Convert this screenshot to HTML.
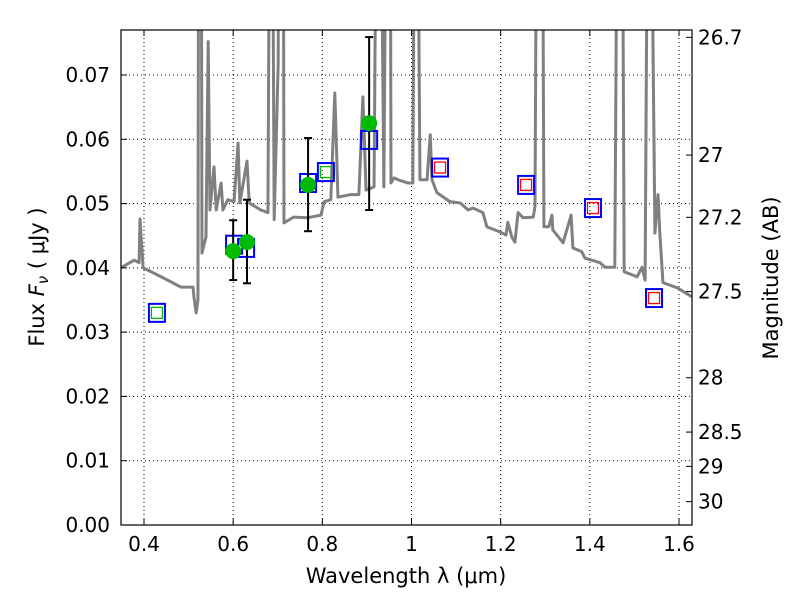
<!DOCTYPE html>
<html><head><meta charset="utf-8"><style>
body{margin:0;background:#fff}
svg text{font-family:"DejaVu Sans","Liberation Sans",sans-serif;fill:#000}
</style></head><body>
<svg id="chart" width="800" height="600" xmlns="http://www.w3.org/2000/svg">
<defs><clipPath id="clip"><rect x="121" y="30" width="571" height="495"/></clipPath></defs>
<rect x="0" y="0" width="800" height="600" fill="#fff"/>
<g id="grid"></g>
<g id="series" clip-path="url(#clip)"></g>
<rect x="121" y="30" width="571" height="495" fill="none" stroke="#000" stroke-width="1.2"/>
<g id="axes"></g>
<text x="406" y="583" font-size="21" text-anchor="middle">Wavelength  λ (μm)</text>
<text transform="translate(44,277) rotate(-90)" font-size="21" text-anchor="middle">Flux  <tspan font-style="italic">F</tspan><tspan font-size="15" dy="4" font-style="italic">ν</tspan><tspan dy="-4">  ( μJy )</tspan></text>
<text transform="translate(778,278) rotate(-90)" font-size="21" text-anchor="middle">Magnitude (AB)</text>
</svg>
<script>
const specLam=[0.348,0.378,0.389,0.391,0.398,0.416,0.461,0.483,0.510,0.512,0.517,0.521,0.523,0.528,0.530,0.539,0.544,0.548,0.557,0.562,0.573,0.577,0.588,0.602,0.611,0.615,0.631,0.636,0.662,0.678,0.683,0.687,0.692,0.701,0.703,0.712,0.714,0.736,0.768,0.797,0.804,0.819,0.828,0.835,0.864,0.882,0.891,0.898,0.916,0.923,0.929,0.938,0.945,0.952,0.954,0.961,0.970,0.992,1.003,1.008,1.012,1.019,1.035,1.042,1.046,1.057,1.086,1.109,1.127,1.138,1.160,1.169,1.198,1.212,1.216,1.225,1.232,1.239,1.250,1.273,1.277,1.282,1.293,1.297,1.308,1.315,1.317,1.340,1.358,1.362,1.382,1.389,1.423,1.434,1.456,1.463,1.472,1.477,1.506,1.517,1.524,1.531,1.535,1.546,1.553,1.557,1.564,1.596,1.629];
const specFlux=[0.0400,0.0412,0.0408,0.0476,0.0400,0.0394,0.0378,0.0370,0.0370,0.0355,0.0330,0.0350,0.12,0.12,0.0423,0.0448,0.0752,0.0490,0.0557,0.0490,0.0532,0.0490,0.0506,0.0503,0.0594,0.0501,0.0566,0.0501,0.0490,0.0486,0.12,0.12,0.0475,0.0719,0.12,0.12,0.0470,0.0479,0.0478,0.0482,0.0503,0.0506,0.0672,0.0510,0.0514,0.0514,0.0666,0.0521,0.0526,0.12,0.12,0.0526,0.12,0.12,0.0532,0.0540,0.0537,0.0532,0.0532,0.12,0.12,0.0537,0.0537,0.0607,0.0537,0.0517,0.0503,0.0501,0.0490,0.0493,0.0486,0.0464,0.0456,0.0451,0.0471,0.0448,0.0440,0.0486,0.0478,0.0479,0.0495,0.12,0.12,0.0464,0.0464,0.0482,0.0459,0.0439,0.0482,0.0431,0.0425,0.0415,0.0408,0.0401,0.0401,0.12,0.12,0.0394,0.0386,0.0401,0.0381,0.12,0.12,0.0454,0.0514,0.0454,0.0377,0.0369,0.0355];
const modelLam=[0.429,0.602,0.629,0.768,0.808,0.905,1.064,1.257,1.407,1.544];
const modelFlux=[0.0330,0.0436,0.0431,0.0532,0.0549,0.0599,0.0556,0.0529,0.0493,0.0353];
const innerLam=[0.429,0.808,1.064,1.257,1.407,1.544];
const innerFlux=[0.0330,0.0549,0.0556,0.0529,0.0493,0.0353];
const innerColor=['#00bb00','#00bb00','red','red','red','red'];
const obsLam=[0.600,0.631,0.768,0.905];
const obsFlux=[0.0426,0.0440,0.0529,0.0625];
const obsHi=[0.0474,0.0506,0.0602,0.0759];
const obsLo=[0.0381,0.0376,0.0457,0.0490];
const xTicks=[0.4,0.6,0.8,1.0,1.2,1.4,1.6];
const xTickLabels=['0.4','0.6','0.8','1','1.2','1.4','1.6'];
const yTicks=[0,0.01,0.02,0.03,0.04,0.05,0.06,0.07];
const yTickLabels=['0.00','0.01','0.02','0.03','0.04','0.05','0.06','0.07'];
const magTicks=[26.7,27,27.2,27.5,28,28.5,29,30];
const magTickLabels=['26.7','27','27.2','27.5','28','28.5','29','30'];

const NS='http://www.w3.org/2000/svg';
const X=l=>144+(l-0.4)*445.83;
const Y=f=>525-f*6428.6;
const mk=(t,a,p)=>{const e=document.createElementNS(NS,t);for(const k in a)e.setAttribute(k,a[k]);p.appendChild(e);return e;};
const grid=document.getElementById('grid'),axes=document.getElementById('axes'),ser=document.getElementById('series');
xTicks.forEach((v,i)=>{const x=X(v);
 let g=mk('line',{x1:x,x2:x,y1:30,y2:525,stroke:'#000','stroke-dasharray':'1,3','stroke-width':1},grid);
 
 mk('line',{x1:x,x2:x,y1:525,y2:519,stroke:'#000'},axes);mk('line',{x1:x,x2:x,y1:30,y2:36,stroke:'#000'},axes);
 const t=mk('text',{x:x,y:551,'font-size':20,'text-anchor':'middle'},axes);t.textContent=xTickLabels[i];
 });
yTicks.forEach((v,i)=>{const y=Y(v);
 let g=mk('line',{x1:121,x2:692,y1:y,y2:y,stroke:'#000','stroke-dasharray':'1,3','stroke-width':1},grid);
 
 mk('line',{x1:121,x2:127,y1:y,y2:y,stroke:'#000'},axes);
 const t=mk('text',{x:110,y:y+7,'font-size':20,'text-anchor':'end'},axes);t.textContent=yTickLabels[i];
 });
magTicks.forEach((m,i)=>{const y=Y(Math.pow(10,(23.9-m)/2.5));
 mk('line',{x1:686,x2:692,y1:y,y2:y,stroke:'#000'},axes);
 const t=mk('text',{x:698,y:y+7,'font-size':20},axes);t.textContent=magTickLabels[i];
 });
const sp=mk('polyline',{points:specLam.map((l,i)=>X(l)+','+Y(specFlux[i])).join(' '),fill:'none',stroke:'#808080','stroke-width':3,'stroke-linejoin':'round'},ser);

modelLam.forEach((l,i)=>{const r=mk('rect',{x:X(l)-8,y:Y(modelFlux[i])-9,width:16,height:18,fill:'none',stroke:'#0000ff','stroke-width':2},ser);
 });
innerLam.forEach((l,i)=>{const r=mk('rect',{x:X(l)-5.5,y:Y(innerFlux[i])-5.5,width:11,height:11,fill:'none',stroke:innerColor[i],'stroke-width':1.3},ser);
 });
obsLam.forEach((l,i)=>{const x=X(l);
 const e=mk('g',{},ser);
 mk('line',{x1:x,x2:x,y1:Y(obsHi[i]),y2:Y(obsLo[i]),stroke:'#000','stroke-width':2},e);
 mk('line',{x1:x-4,x2:x+4,y1:Y(obsHi[i]),y2:Y(obsHi[i]),stroke:'#000','stroke-width':2},e);
 mk('line',{x1:x-4,x2:x+4,y1:Y(obsLo[i]),y2:Y(obsLo[i]),stroke:'#000','stroke-width':2},e);
 const c=mk('circle',{cx:x,cy:Y(obsFlux[i]),r:8,fill:'#00bb00'},ser);
 });
</script>
</body></html>
